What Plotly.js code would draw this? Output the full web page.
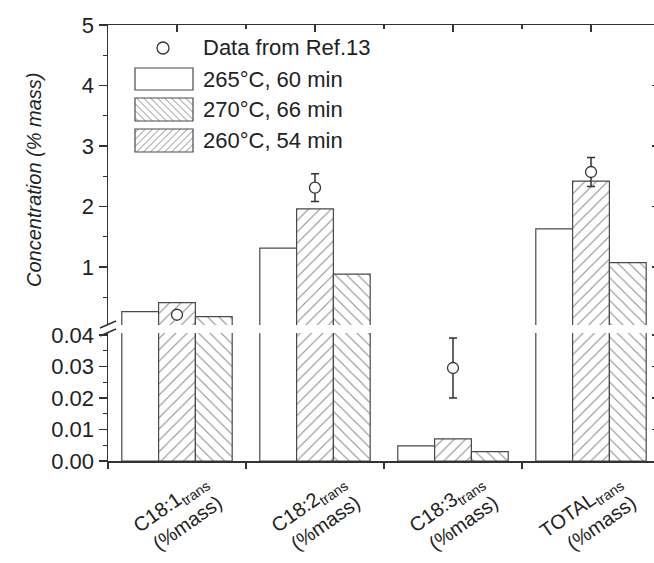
<!DOCTYPE html>
<html>
<head>
<meta charset="utf-8">
<script src="https://cdn.plot.ly/plotly-3.0.1.min.js"></script>
<style>
  html, body { margin: 0; padding: 0; overflow: hidden; background: #ffffff; }
  #chart { width: 660px; height: 563px; }
</style>
</head>
<body>
<div id="chart"></div>
<script>
// Trans fatty acid content, % mass, per fatty acid group
const categories = ['C18:1', 'C18:2', 'C18:3', 'TOTAL'];
const tickLabels = [
  'C18:1<sub>trans</sub><br>(%mass)',
  'C18:2<sub>trans</sub><br>(%mass)',
  'C18:3<sub>trans</sub><br>(%mass)',
  'TOTAL<sub>trans</sub><br>(%mass)'
];
const seriesNames = ['265°C, 60 min', '270°C, 66 min', '260°C, 54 min'];
const values265 = [0.26, 1.31, 0.0048, 1.63];
const values270 = [0.41, 1.96, 0.0070, 2.42];
const values260 = [0.18, 0.88, 0.0030, 1.07];
const refName = 'Data from Ref.13';
const refValues = [0.21, 2.31, 0.0295, 2.57];
const refErrors = [null, 0.23, 0.0095, 0.24];

// Broken value axis: lower panel 0 - 0.04, upper panel 0.04 - 5
const lowerRange = [0, 0.0406];
const upperRange = [0.04, 5];
const lowerDomain = [0, 0.2936];
const upperDomain = [0.3119, 1];

const W = 660, H = 563;
const M = { l: 108, r: 0, t: 25, b: 102 };
const PW = W - M.l - M.r, PH = H - M.t - M.b;
const px = x => (x - M.l) / PW;          // pixel -> paper x
const py = y => (H - M.b - y) / PH;      // pixel -> paper y

const INK = '#333333';
const EDGE = '#4a4a4a';
const HATCH = '#8c8c8c';
const FONT = 'Liberation Sans, Arial, sans-serif';

const fills = [
  { color: '#ffffff', pattern: { shape: '' } },
  { color: '#ffffff', pattern: { shape: '/', fgcolor: HATCH, bgcolor: '#ffffff', size: 8, solidity: 0.13 } },
  { color: '#ffffff', pattern: { shape: '\\', fgcolor: HATCH, bgcolor: '#ffffff', size: 8, solidity: 0.13 } }
];
const seriesValues = [values265, values270, values260];

const traces = [];
['y', 'y2'].forEach(yax => {
  seriesValues.forEach((vals, i) => {
    traces.push({
      type: 'bar', x: categories, y: vals, name: seriesNames[i],
      xaxis: 'x', yaxis: yax, showlegend: false, hoverinfo: 'skip',
      marker: { color: fills[i].color, pattern: fills[i].pattern, line: { color: EDGE, width: 1.2 } }
    });
  });
});

// reference points: those above the break go to the upper panel
const split = (arr, upper) => arr.map((v, i) => ((refValues[i] > upperRange[0]) === upper ? v : null));
[false, true].forEach(upper => {
  traces.push({
    type: 'scatter', mode: 'markers', name: refName,
    x: categories, y: split(refValues, upper),
    xaxis: 'x', yaxis: upper ? 'y2' : 'y', showlegend: false, hoverinfo: 'skip',
    marker: { symbol: 'circle', size: 11, color: '#ffffff', line: { color: INK, width: 1.3 } },
    error_y: { type: 'data', array: split(refErrors, upper), visible: true, color: INK, thickness: 1.5, width: 4 }
  });
});

// empty traces so the frame axes (top, right) get drawn
traces.push({ type: 'scatter', x: [], y: [], xaxis: 'x2', yaxis: 'y2', showlegend: false, hoverinfo: 'skip' });
traces.push({ type: 'scatter', x: [], y: [], xaxis: 'x', yaxis: 'y3', showlegend: false, hoverinfo: 'skip' });
traces.push({ type: 'scatter', x: [], y: [], xaxis: 'x', yaxis: 'y4', showlegend: false, hoverinfo: 'skip' });

const tickFont = { family: FONT, size: 22, color: '#222222' };

// legend drawn as boxes with hatching
function hatchPath(x0, y0, x1, y1, dir, step) {
  let d = '';
  if (dir === '/') {
    for (let c = x0 + y0 + step / 2; c < x1 + y1; c += step) {
      const xa = Math.max(x0, c - y1), xb = Math.min(x1, c - y0);
      if (xb > xa) d += `M${px(xa)},${py(c - xa)}L${px(xb)},${py(c - xb)}`;
    }
  } else {
    for (let c = x0 - y1 + step / 2; c < x1 - y0; c += step) {
      const xa = Math.max(x0, c + y0), xb = Math.min(x1, c + y1);
      if (xb > xa) d += `M${px(xa)},${py(xa - c)}L${px(xb)},${py(xb - c)}`;
    }
  }
  return d;
}

const legendBoxes = [
  { y0: 68, y1: 90, hatch: '' },
  { y0: 98, y1: 121, hatch: '\\' },
  { y0: 129, y1: 152, hatch: '/' }
];
const shapes = [];
const annotations = [];
const legendFont = { family: FONT, size: 22, color: '#222222' };

shapes.push({ type: 'circle', xref: 'paper', yref: 'paper',
  x0: px(157), x1: px(169), y0: py(54), y1: py(42), line: { color: INK, width: 1.3 }, fillcolor: '#ffffff' });
annotations.push({ xref: 'paper', yref: 'paper', x: px(201), y: py(48), xanchor: 'left', yanchor: 'middle',
  text: refName, showarrow: false, font: legendFont });

legendBoxes.forEach((b, i) => {
  if (b.hatch) {
    shapes.push({ type: 'path', xref: 'paper', yref: 'paper', path: hatchPath(135, b.y0, 193, b.y1, b.hatch, 7),
      line: { color: HATCH, width: 1 } });
  }
  shapes.push({ type: 'rect', xref: 'paper', yref: 'paper',
    x0: px(135), x1: px(193), y0: py(b.y1), y1: py(b.y0), line: { color: EDGE, width: 1.2 } });
  annotations.push({ xref: 'paper', yref: 'paper', x: px(201), y: py((b.y0 + b.y1) / 2), xanchor: 'left', yanchor: 'middle',
    text: seriesNames[i], showarrow: false, font: legendFont });
});

// axis break marks
[[0, 0], [0, 8]].forEach(([dx, dy]) => {
  shapes.push({ type: 'line', xref: 'paper', yref: 'paper',
    x0: px(100 + dx), y0: py(328 + dy), x1: px(116 + dx), y1: py(321 + dy), line: { color: INK, width: 1.5 } });
});

// value axis title spanning both panels
annotations.push({ xref: 'paper', yref: 'paper', x: px(34), y: py(180), xanchor: 'center', yanchor: 'middle',
  textangle: -90, text: 'Concentration (% mass)', showarrow: false,
  font: { family: FONT, size: 20, color: '#222222', style: 'italic' } });

const layout = {
  width: W, height: H,
  margin: M,
  paper_bgcolor: '#ffffff', plot_bgcolor: '#ffffff',
  barmode: 'group', bargap: 0.2, bargroupgap: 0,
  showlegend: false,
  xaxis: {
    type: 'category', domain: [0, 1], anchor: 'y', range: [-0.5, 3.5],
    tickmode: 'array', tickvals: categories, ticktext: tickLabels,
    tickson: 'boundaries', ticks: 'outside', ticklen: 6, tickwidth: 1.5, tickcolor: INK,
    showline: true, linecolor: INK, linewidth: 1.5, showgrid: false, zeroline: false,
    tickangle: -35, tickfont: { family: FONT, size: 20, color: '#222222' },
    ticklabelshift: 26, ticklabelstandoff: 0
  },
  xaxis2: {
    type: 'linear', overlaying: 'x', anchor: 'y2', side: 'top', range: [-0.5, 3.5],
    tick0: 0, dtick: 1, ticks: 'inside', ticklen: 7, tickwidth: 1.5, tickcolor: INK,
    minor: { dtick: 0.5, ticks: 'inside', ticklen: 4, tickcolor: INK, tickwidth: 1.2 },
    showticklabels: false, showline: true, linecolor: INK, linewidth: 1.5, showgrid: false, zeroline: false
  },
  yaxis: {
    domain: lowerDomain, anchor: 'x', range: lowerRange,
    tick0: 0, dtick: 0.01, tickformat: '.2f',
    ticks: 'outside', ticklen: 8, tickwidth: 1.5, tickcolor: INK,
    minor: { dtick: 0.005, ticks: 'outside', ticklen: 4, tickcolor: INK, tickwidth: 1.2 },
    showline: true, linecolor: INK, linewidth: 1.5, showgrid: false, zeroline: false,
    tickfont: tickFont
  },
  yaxis2: {
    domain: upperDomain, anchor: 'x', range: upperRange,
    tick0: 0, dtick: 1,
    ticks: 'outside', ticklen: 8, tickwidth: 1.5, tickcolor: INK,
    minor: { dtick: 0.5, ticks: 'outside', ticklen: 4, tickcolor: INK, tickwidth: 1.2 },
    showline: true, linecolor: INK, linewidth: 1.5, showgrid: false, zeroline: false,
    tickfont: tickFont
  },
  yaxis3: {
    overlaying: 'y2', side: 'right', anchor: 'x', range: upperRange,
    tick0: 0, dtick: 1, ticks: 'inside', ticklen: 8, tickwidth: 1.5, tickcolor: INK,
    showticklabels: false, showline: false, showgrid: false, zeroline: false
  },
  yaxis4: {
    overlaying: 'y', side: 'right', anchor: 'x', range: lowerRange,
    tick0: 0, dtick: 0.01, ticks: 'inside', ticklen: 8, tickwidth: 1.5, tickcolor: INK,
    showticklabels: false, showline: false, showgrid: false, zeroline: false
  },
  shapes: shapes,
  annotations: annotations
};

Plotly.newPlot('chart', traces, layout, { displayModeBar: false, staticPlot: true });
</script>
</body>
</html>
